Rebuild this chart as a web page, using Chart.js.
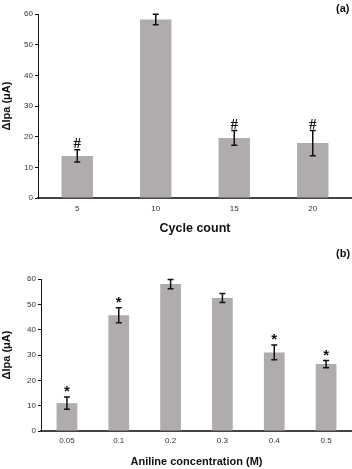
<!DOCTYPE html>
<html lang="en">
<head>
<meta charset="UTF-8">
<title>Ipa bars</title>
<script src="https://cdn.jsdelivr.net/npm/chart.js"></script>
<style>
  body { margin: 0; background: #fff; font-family: "Liberation Sans", Arial, sans-serif; }
  .panel { position: absolute; left: 0; width: 352px; }
  .tag { position: absolute; font: bold 11px "Liberation Sans", Arial, sans-serif; color: #111; }
</style>
</head>
<body>
<div class="panel" style="top:0;height:236px"><canvas id="chartA"></canvas></div>
<div class="panel" style="top:230px;height:239px"><canvas id="chartB"></canvas></div>
<div class="tag" style="left:336px;top:2px">(a)</div>
<div class="tag" style="left:336px;top:247px">(b)</div>
<script>
// panel (a) - cycle count
const cycles = ['5', '10', '15', '20'];
const cycleIpa = [13.7, 58.2, 19.6, 17.9];
const cycleErr = [2.0, 1.7, 2.4, 4.1];
const cycleMark = ['#', '', '#', '#'];

// panel (b) - aniline concentration
const conc = ['0.05', '0.1', '0.2', '0.3', '0.4', '0.5'];
const concIpa = [11.0, 45.7, 58.0, 52.5, 31.0, 26.4];
const concErr = [2.4, 3.0, 1.8, 1.8, 2.9, 1.4];
const concMark = ['*', '*', '', '', '*', '*'];

const yTicks = [0, 10, 20, 30, 40, 50, 60];

// error bars + significance marks drawn from the scales
const errPlugin = {
  id: 'errBars',
  afterDatasetsDraw(chart, args, opts) {
    const ctx = chart.ctx;
    const y = chart.scales.y;
    const meta = chart.getDatasetMeta(0);
    ctx.save();
    ctx.strokeStyle = '#111';
    ctx.fillStyle = '#111';
    ctx.lineWidth = 1.5;
    meta.data.forEach((bar, i) => {
      const v = opts.values[i], e = opts.errors[i];
      const top = y.getPixelForValue(v + e), bot = y.getPixelForValue(v - e);
      ctx.beginPath();
      ctx.moveTo(bar.x, top); ctx.lineTo(bar.x, bot);
      ctx.moveTo(bar.x - 3, top); ctx.lineTo(bar.x + 3, top);
      ctx.moveTo(bar.x - 3, bot); ctx.lineTo(bar.x + 3, bot);
      ctx.stroke();
      if (opts.marks[i]) {
        ctx.font = opts.markFont;
        ctx.textAlign = 'center';
        ctx.textBaseline = 'alphabetic';
        ctx.fillText(opts.marks[i], bar.x, top + opts.markShift);
      }
    });
    ctx.restore();
  }
};

function makeChart(id, labels, values, errors, marks, o) {
  return new Chart(document.getElementById(id), {
    type: 'bar',
    data: {
      labels: labels,
      datasets: [{
        data: values,
        backgroundColor: '#b0acac',
        categoryPercentage: 1,
        barPercentage: 0.4
      }]
    },
    plugins: [errPlugin],
    options: {
      responsive: true,
      maintainAspectRatio: false,
      animation: false,
      layout: { padding: { top: o.padTop, right: 0, left: 0, bottom: 0 } },
      plugins: {
        legend: { display: false },
        tooltip: { enabled: false },
        errBars: { values: values, errors: errors, marks: marks, markFont: o.markFont, markShift: o.markShift }
      },
      scales: {
        x: {
          grid: { display: false, drawTicks: false },
          border: { display: true, color: '#444', width: 2 },
          ticks: { color: '#333', font: { size: 8, family: 'Liberation Sans' }, padding: o.tickPad },
          title: { display: true, text: o.xTitle, color: '#111', font: { size: o.xTitleSize, weight: 'bold', family: 'Liberation Sans' }, padding: 0 },
          afterFit(s) { s.height = o.xHeight; }
        },
        y: {
          min: 0, max: 60,
          afterBuildTicks(s) { s.ticks = yTicks.map(v => ({ value: v })); },
          grid: { display: true, drawOnChartArea: false, drawTicks: true, tickLength: 3, color: '#111' },
          border: { display: true, color: '#111', width: 1 },
          ticks: { color: '#333', font: { size: 8, family: 'Liberation Sans' }, padding: 2 },
          title: { display: true, text: '\u0394Ipa (\u03bcA)', color: '#111', font: { size: 11, weight: 'bold', family: 'Liberation Sans' }, padding: 0 },
          afterFit(s) { s.width = o.yWidth; }
        }
      }
    }
  });
}

makeChart('chartA', cycles, cycleIpa, cycleErr, cycleMark,
  { xTitle: 'Cycle count', xTitleSize: 12.5, tickPad: 6, padTop: 14, xHeight: 38, yWidth: 38,
    markFont: 'bold 15px "Liberation Serif"', markShift: -1.5 });
makeChart('chartB', conc, concIpa, concErr, concMark,
  { xTitle: 'Aniline concentration (M)', xTitleSize: 11, tickPad: 5, padTop: 49, xHeight: 38, yWidth: 41,
    markFont: 'bold 15px "Liberation Sans"', markShift: -1 });
</script>
</body>
</html>
